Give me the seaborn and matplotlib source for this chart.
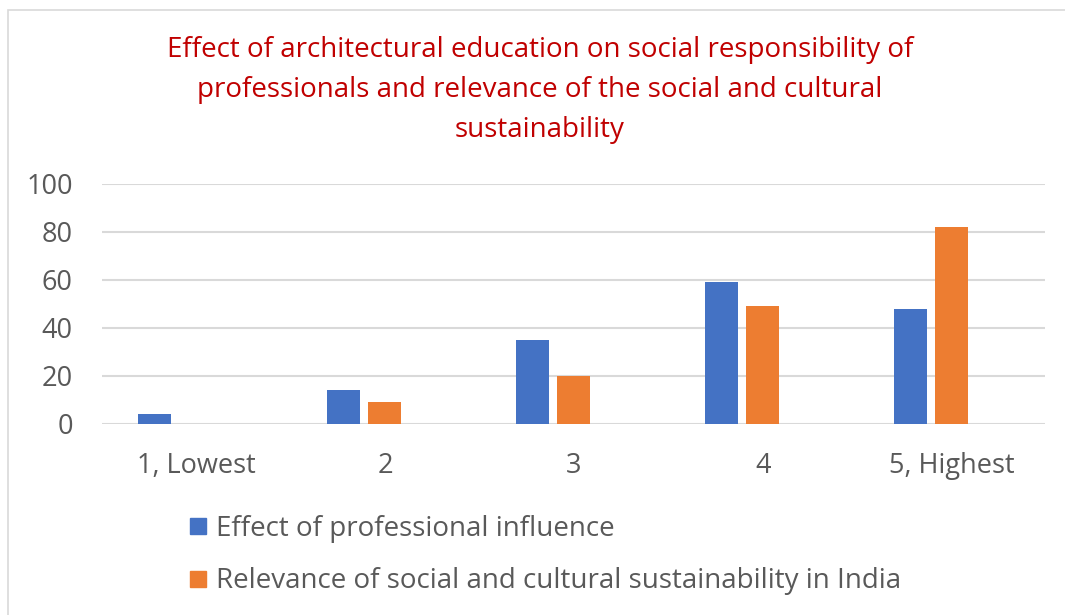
import matplotlib
matplotlib.use("Agg")
import matplotlib.pyplot as plt
import matplotlib.transforms as mtransforms
from matplotlib.lines import Line2D
from matplotlib.patches import Rectangle
import seaborn as sns
import pandas as pd

categories = ["1, Lowest", "2", "3", "4", "5, Highest"]
series_names = ["Effect of professional influence",
                "Relevance of social and cultural sustainability in India"]
influence = [4, 14, 35, 59, 48]
relevance = [0, 9, 20, 49, 82]
yticks = [0, 20, 40, 60, 80, 100]
title = ("Effect of architectural education on social responsibility of\n"
         "professionals and relevance of the social and cultural\n"
         "sustainability")

colors = ["#4472C4", "#ED7D31"]
text_gray = "#595959"
grid_gray = "#D9D9D9"

df = pd.DataFrame({
    "category": categories * 2,
    "series": [series_names[0]] * 5 + [series_names[1]] * 5,
    "value": influence + relevance,
})

sns.set_theme(style="white")
plt.rcParams["font.family"] = ["Open Sans", "DejaVu Sans"]

W, H = 1065, 615
fig = plt.figure(figsize=(W / 100, H / 100), dpi=100)
fig.patch.set_facecolor("white")

# outer chart border
fig.patches.append(Rectangle((8 / W, -0.1), 1.2, 1 - 10 / H + 0.1,
                             transform=fig.transFigure, fill=False,
                             edgecolor="#D9D9D9", linewidth=1.2))

left, right, top, bottom = 102, 1045, 184, 424
ax = fig.add_axes([left / W, (H - bottom) / H, (right - left) / W, (bottom - top) / H])

sns.barplot(data=df, x="category", y="value", hue="series", order=categories,
            hue_order=series_names, palette=colors, width=0.434, gap=0.19,
            legend=False, ax=ax, saturation=1, edgecolor="none", linewidth=0)

ax.set_xlim(-0.386, 4.603)
ax.set_ylim(0, 100)
ax.set_yticks(yticks)
ax.set_yticklabels([str(v) for v in yticks])
ax.grid(axis="y", color=grid_gray, linewidth=1.5)
ax.set_axisbelow(True)
for s in ax.spines.values():
    s.set_visible(False)
ax.set_xlabel("")
ax.set_ylabel("")
ax.tick_params(axis="both", length=0, labelsize=19.5, labelcolor=text_gray)
ax.tick_params(axis="x", pad=20.5)
ax.tick_params(axis="y", pad=21)

offset = mtransforms.ScaledTranslation(0.21, 0, fig.dpi_scale_trans)
for lab in ax.get_xticklabels():
    lab.set_transform(lab.get_transform() + offset)

fig.text(540 / W, (H - 90) / H, title, ha="center", va="center",
         color="#C00000", fontsize=20, linespacing=1.56)

handles = [Line2D([], [], marker="s", linestyle="none", markersize=11,
                  markerfacecolor=c, markeredgecolor=c) for c in colors]
leg = fig.legend(handles, series_names, loc="upper left",
                 bbox_to_anchor=(190 / W, (H - 515) / H), frameon=False,
                 fontsize=20, labelcolor=text_gray, handlelength=0.6,
                 handletextpad=0.33, labelspacing=0.88, borderpad=0,
                 borderaxespad=0)

fig.savefig("out.png", dpi=100, facecolor="white")
